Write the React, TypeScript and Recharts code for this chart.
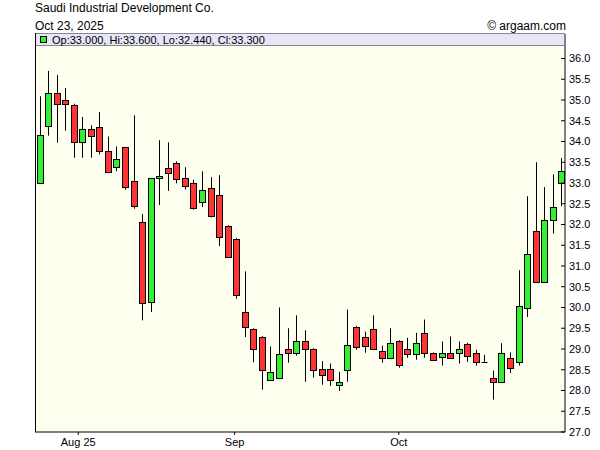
import { ComposedChart, Bar, XAxis, YAxis, CartesianGrid } from 'recharts'

// daily OHLC, oldest first, last candle is Oct 23, 2025
const opens = [
  32.99, 34.36, 35.16, 34.99, 34.89, 34.0, 34.31, 34.36, 33.78, 33.4,
  33.86, 33.06, 32.07, 30.12, 33.13, 33.37, 33.47, 33.11, 32.99, 32.53,
  32.87, 32.7, 31.97, 31.66, 29.9, 29.49, 29.3, 28.26, 28.31, 29.01,
  28.91, 29.2, 29.01, 28.52, 28.52, 28.14, 28.5, 29.54, 29.3, 29.49,
  28.96, 28.79, 29.2, 29.01, 28.89, 29.39, 28.91, 28.81, 28.91, 28.91,
  29.13, 28.91, 28.69, 28.31, 28.21, 28.79, 28.69, 30.0, 31.85, 30.6,
  32.12, 33.0,
]
const highs = [
  35.09, 35.7, 35.6, 35.29, 34.91, 34.59, 34.39, 34.71, 34.12, 33.88,
  33.87, 34.63, 32.25, 33.12, 34.03, 33.98, 33.52, 33.38, 33.08, 33.28,
  33.14, 33.19, 31.98, 31.67, 30.87, 29.5, 29.31, 29.06, 30.0, 29.5,
  29.81, 29.45, 29.02, 28.71, 28.65, 28.45, 29.95, 29.55, 29.42, 29.81,
  29.08, 29.5, 29.21, 29.27, 29.39, 29.71, 28.92, 29.18, 29.3, 29.18,
  29.15, 28.98, 28.86, 28.48, 29.14, 28.92, 30.9, 32.68, 33.5, 32.9,
  33.21, 33.6,
]
const lows = [
  32.98, 34.14, 33.97, 34.26, 33.61, 33.61, 33.61, 33.69, 33.24, 33.28,
  32.84, 32.38, 29.69, 29.89, 32.47, 32.81, 32.99, 32.84, 32.36, 32.42,
  32.17, 31.48, 31.22, 30.21, 29.29, 28.68, 28.02, 28.25, 28.3, 28.67,
  28.84, 28.21, 28.31, 28.14, 28.11, 27.99, 28.21, 28.98, 28.91, 29.0,
  28.67, 28.78, 28.55, 28.79, 28.74, 28.79, 28.71, 28.6, 28.78, 28.65,
  28.69, 28.6, 28.69, 27.78, 28.2, 28.42, 28.6, 29.77, 30.61, 30.59,
  31.78, 32.44,
]
const closes = [
  34.15, 35.16, 34.89, 34.89, 34.0, 34.31, 34.15, 33.78, 33.28, 33.59,
  32.89, 32.46, 30.12, 33.11, 33.18, 33.25, 33.08, 32.92, 32.38, 32.82,
  32.19, 31.69, 31.23, 30.31, 29.54, 29.01, 28.5, 28.45, 28.89, 28.91,
  29.2, 29.01, 28.5, 28.38, 28.26, 28.21, 29.1, 29.06, 29.08, 29.01,
  28.79, 29.15, 28.62, 28.89, 29.15, 28.91, 28.74, 28.91, 28.79, 29.01,
  28.84, 28.69, 28.69, 28.21, 28.91, 28.55, 30.04, 31.29, 30.62, 32.1,
  32.43, 33.3,
]

const tickLabels = ['Aug 25', 'Sep', 'Oct']
const tickIdx = [4.55, 22.83, 42.02]
const yTicks = [27, 27.5, 28, 28.5, 29, 29.5, 30, 30.5, 31, 31.5, 32, 32.5, 33, 33.5, 34, 34.5, 35, 35.5, 36]

const data = opens.map((open, i) => ({
  idx: i,
  open,
  high: highs[i],
  low: lows[i],
  close: closes[i],
}))

const last = data[data.length - 1]
const font = '"Liberation Sans", Arial, sans-serif'

function Candle(props: any) {
  const { x, y, width, height, payload } = props
  const { open, close, high, low } = payload
  const top = Math.min(y, y + height)
  const h = Math.abs(height)
  const ppu = high > low ? h / (high - low) : 0
  const cx = Math.round(x + width / 2) + 0.5
  const yO = top + (high - open) * ppu
  const yC = top + (high - close) * ppu
  const bTop = Math.round(Math.min(yO, yC)) + 0.5
  const bH = Math.round(Math.abs(yO - yC))
  return (
    <g>
      <line x1={cx} x2={cx} y1={top} y2={top + h} stroke="#000" strokeWidth={1} />
      {bH < 1 ? (
        <line x1={cx - 3} x2={cx + 3} y1={bTop} y2={bTop} stroke="#000" strokeWidth={1} />
      ) : (
        <rect
          x={cx - 3}
          y={bTop}
          width={6}
          height={bH}
          fill={close >= open ? '#33EE33' : '#FF3333'}
          stroke="#000"
          strokeWidth={1}
        />
      )}
    </g>
  )
}

export default function App() {
  return (
    <div style={{ position: 'absolute', left: 0, top: 0, width: 600, height: 450, background: '#fff' }}>
      <ComposedChart
        width={600}
        height={450}
        data={data}
        margin={{ top: 34, right: 0, left: 35, bottom: 0 }}
      >
        <CartesianGrid fill="#FFFFF0" horizontal={false} vertical={false} />
        <XAxis
          dataKey="idx"
          type="number"
          domain={[-0.5, 61.45]}
          ticks={tickIdx}
          interval={0}
          height={18}
          tickFormatter={(v: number) => tickLabels[tickIdx.indexOf(v)]}
          tick={{ fontSize: 11, fill: '#000', fontFamily: font }}
          axisLine={{ stroke: '#000' }}
          tickLine={{ stroke: '#000' }}
          tickSize={3}
          tickMargin={3}
          allowDataOverflow
        />
        <YAxis
          orientation="right"
          domain={[27, 36.59]}
          ticks={yTicks}
          interval={0}
          width={35}
          tickFormatter={(v: number) => v.toFixed(1)}
          tick={{ fontSize: 11, fill: '#000', fontFamily: font }}
          axisLine={{ stroke: '#000' }}
          tickLine={{ stroke: '#000' }}
          tickSize={-4}
          tickMargin={8}
          allowDataOverflow
        />
        <Bar
          dataKey={(d: any) => [d.low, d.high]}
          barSize={7}
          shape={Candle}
          isAnimationActive={false}
        />
      </ComposedChart>
      <svg
        width={600}
        height={450}
        style={{ position: 'absolute', left: 0, top: 0, pointerEvents: 'none', fontFamily: font }}
      >
        <text x={35} y={12} fontSize={12} fill="#000">Saudi Industrial Development Co.</text>
        <text x={35} y={30} fontSize={12} fill="#000">Oct 23, 2025</text>
        <text x={566} y={30} fontSize={12} fill="#000" textAnchor="end">© argaam.com</text>
        <rect x={35.5} y={33.5} width={529} height={12} fill="#E6E6F8" stroke="#888" />
        <line x1={35.5} x2={35.5} y1={33} y2={432} stroke="#000" />
        <rect x={40.5} y={36.5} width={6} height={6} fill="#33EE33" stroke="#000" />
        <text x={52} y={44} fontSize={11} fill="#000">
          {`Op:${last.open.toFixed(3)}, Hi:${last.high.toFixed(3)}, Lo:${last.low.toFixed(3)}, Cl:${last.close.toFixed(3)}`}
        </text>
      </svg>
    </div>
  )
}
